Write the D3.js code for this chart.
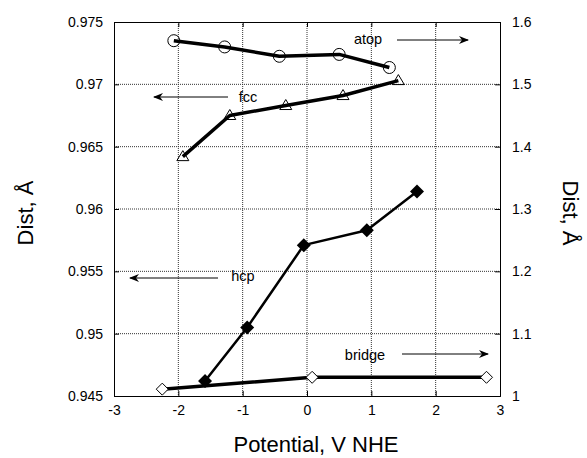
<!DOCTYPE html>
<html>
<head>
<meta charset="utf-8">
<script src="https://cdn.jsdelivr.net/npm/d3@7"></script>
<style>
body { margin: 0; background: #fff; }
text { font-family: "Liberation Sans", Arial, sans-serif; }
</style>
</head>
<body>
<svg id="chart" width="587" height="458"></svg>
<script>
// data
var xTicks = [-3, -2, -1, 0, 1, 2, 3];
var leftTicks = [0.945, 0.95, 0.955, 0.96, 0.965, 0.97, 0.975];
var rightTicks = [1, 1.1, 1.2, 1.3, 1.4, 1.5, 1.6];

var atopX = [-2.07, -1.28, -0.43, 0.50, 1.28];
var atopY = [1.570, 1.560, 1.545, 1.548, 1.527];   // right axis

var fccX = [-1.93, -1.20, -0.33, 0.56, 1.42];
var fccY = [0.9642, 0.9675, 0.9683, 0.9691, 0.9703]; // left axis

var hcpX = [-1.585, -0.93, -0.05, 0.93, 1.71];
var hcpY = [0.9462, 0.9505, 0.9571, 0.9583, 0.9614]; // left axis

var bridgeX = [-2.25, 0.08, 2.79];
var bridgeY = [1.011, 1.030, 1.030];   // right axis

var svg = d3.select('#chart');
var L = 114, R = 500, T = 22, B = 396;

var x = d3.scaleLinear().domain([-3, 3]).range([L, R]);
var yl = d3.scaleLinear().domain([0.945, 0.975]).range([B, T]);
var yr = d3.scaleLinear().domain([1, 1.6]).range([B, T]);

// grid
var grid = svg.append('g');
grid.selectAll('.gx').data(xTicks.slice(1, -1)).enter().append('line')
    .attr('x1', function(d){ return x(d); }).attr('x2', function(d){ return x(d); })
    .attr('y1', T).attr('y2', B)
    .attr('stroke', '#333').attr('stroke-width', 1).attr('stroke-dasharray', '1,1');
grid.selectAll('.gy').data(leftTicks.slice(1, -1)).enter().append('line')
    .attr('x1', L).attr('x2', R)
    .attr('y1', function(d){ return yl(d); }).attr('y2', function(d){ return yl(d); })
    .attr('stroke', '#333').attr('stroke-width', 1).attr('stroke-dasharray', '1,1');

// axes (ticks inward)
var plain = function(d){ return String(+d.toFixed(3)); };
svg.append('g').attr('transform', 'translate(0,' + B + ')')
    .call(d3.axisBottom(x).tickValues(xTicks).tickSize(-5).tickPadding(9).tickFormat(plain));
svg.append('g').attr('transform', 'translate(0,' + T + ')')
    .call(d3.axisTop(x).tickValues(xTicks).tickSize(-5).tickFormat(''));
svg.append('g').attr('transform', 'translate(' + L + ',0)')
    .call(d3.axisLeft(yl).tickValues(leftTicks).tickSize(-5).tickPadding(11).tickFormat(plain));
svg.append('g').attr('transform', 'translate(' + R + ',0)')
    .call(d3.axisRight(yr).tickValues(rightTicks).tickSize(-5).tickPadding(12).tickFormat(plain));

svg.selectAll('.domain').attr('stroke', '#000');
svg.selectAll('.tick line').attr('stroke', '#000');
svg.selectAll('.tick text').attr('font-size', 14).attr('fill', '#000')
    .style('font-family', '"Liberation Sans", Arial, sans-serif');

// series
function series(xs, ys, yScale, width){
    var pts = xs.map(function(d, i){ return [x(d), yScale(ys[i])]; });
    svg.append('path').datum(pts)
        .attr('d', d3.line())
        .attr('fill', 'none').attr('stroke', '#000').attr('stroke-width', width)
        .attr('stroke-linejoin', 'round');
    return pts;
}

var atopPts = series(atopX, atopY, yr, 3.5);
svg.selectAll('.circ').data(atopPts).enter().append('circle')
    .attr('cx', function(d){ return d[0]; }).attr('cy', function(d){ return d[1]; })
    .attr('r', 6).attr('fill', 'none').attr('stroke', '#000').attr('stroke-width', 1);

var fccPts = series(fccX, fccY, yl, 3.5);
svg.selectAll('.tri').data(fccPts).enter().append('path')
    .attr('transform', function(d){ return 'translate(' + d[0] + ',' + d[1] + ')'; })
    .attr('d', 'M0,-6L6,4L-6,4Z')
    .attr('fill', 'none').attr('stroke', '#000').attr('stroke-width', 1);

var hcpPts = series(hcpX, hcpY, yl, 2.5);
svg.selectAll('.fdia').data(hcpPts).enter().append('path')
    .attr('transform', function(d){ return 'translate(' + d[0] + ',' + d[1] + ')'; })
    .attr('d', 'M0,-7L7,0L0,7L-7,0Z')
    .attr('fill', '#000');

var bridgePts = series(bridgeX, bridgeY, yr, 3.5);
svg.selectAll('.odia').data(bridgePts).enter().append('path')
    .attr('transform', function(d){ return 'translate(' + d[0] + ',' + d[1] + ')'; })
    .attr('d', 'M0,-6L6,0L0,6L-6,0Z')
    .attr('fill', '#fff').attr('stroke', '#000').attr('stroke-width', 1);

// annotations with arrows
svg.append('defs').append('marker')
    .attr('id', 'arr').attr('viewBox', '0 0 10 10').attr('refX', 9).attr('refY', 5)
    .attr('markerWidth', 10).attr('markerHeight', 10).attr('markerUnits', 'userSpaceOnUse')
    .attr('orient', 'auto')
    .append('path').attr('d', 'M0,1L10,5L0,9L3,5Z').attr('fill', '#000');

var notes = [
    {t: 'atop', tx: 368, ty: 39, a: [397, 468], ay: 40},
    {t: 'fcc', tx: 248, ty: 97, a: [228, 154], ay: 97},
    {t: 'hcp', tx: 243, ty: 276, a: [218, 130], ay: 278},
    {t: 'bridge', tx: 365, ty: 355, a: [402, 488], ay: 354}
];
notes.forEach(function(n){
    svg.append('text').attr('x', n.tx).attr('y', n.ty).attr('dy', '0.35em')
        .attr('text-anchor', 'middle').attr('font-size', 14.5).text(n.t);
    svg.append('line').attr('x1', n.a[0]).attr('x2', n.a[1]).attr('y1', n.ay).attr('y2', n.ay)
        .attr('stroke', '#000').attr('stroke-width', 1).attr('marker-end', 'url(#arr)');
});

// axis titles
svg.append('text').attr('x', 316).attr('y', 452).attr('text-anchor', 'middle')
    .attr('font-size', 22).text('Potential, V NHE');
svg.append('text').attr('transform', 'translate(33,213) rotate(-90)').attr('text-anchor', 'middle')
    .attr('font-size', 22).text('Dist, Å');
svg.append('text').attr('transform', 'translate(563,213) rotate(90)').attr('text-anchor', 'middle')
    .attr('font-size', 22).text('Dist, Å');
</script>
</body>
</html>
